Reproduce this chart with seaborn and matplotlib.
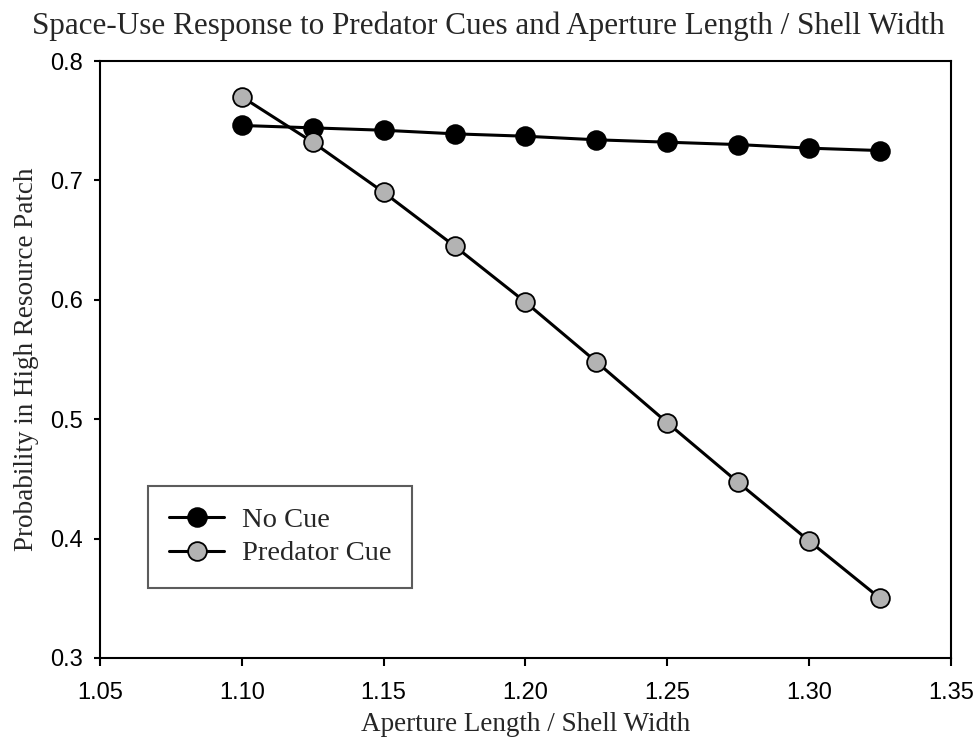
import matplotlib
matplotlib.use("Agg")
import matplotlib.pyplot as plt
import seaborn as sns
import pandas as pd

# valores
x_vals = [1.100, 1.125, 1.150, 1.175, 1.200, 1.225, 1.250, 1.275, 1.300, 1.325]
no_cue = [0.746, 0.744, 0.742, 0.739, 0.737, 0.734, 0.732, 0.730, 0.727, 0.725]
predator_cue = [0.770, 0.732, 0.690, 0.645, 0.598, 0.548, 0.497, 0.447, 0.398, 0.350]
x_ticks = [1.05, 1.10, 1.15, 1.20, 1.25, 1.30, 1.35]
y_ticks = [0.3, 0.4, 0.5, 0.6, 0.7, 0.8]

df = pd.DataFrame({
    "x": x_vals * 2,
    "y": no_cue + predator_cue,
    "grupo": ["No Cue"] * len(x_vals) + ["Predator Cue"] * len(x_vals),
})

sns.set_style("ticks")
serif = ["Liberation Serif", "DejaVu Serif"]
sans = ["Liberation Sans", "DejaVu Sans"]

fig = plt.figure(figsize=(9.76, 7.46), dpi=100)
ax = fig.add_axes([100 / 976, 1 - 658 / 746, 851 / 976, 597 / 746])

cores = {"No Cue": "black", "Predator Cue": "#b3b3b3"}
for nome, sub in df.groupby("grupo"):
    sns.lineplot(data=sub, x="x", y="y", ax=ax, color="black", linewidth=2.2,
                 marker="o", markersize=13.5, markerfacecolor=cores[nome],
                 markeredgecolor="black", markeredgewidth=1.3, label=nome)

ax.set_xlim(1.05, 1.35)
ax.set_ylim(0.3, 0.8)
ax.set_xticks(x_ticks)
ax.set_yticks(y_ticks)
ax.set_xticklabels([f"{v:.2f}" for v in x_ticks], family=sans, fontsize=17)
ax.set_yticklabels([f"{v:.1f}" for v in y_ticks], family=sans, fontsize=17)
ax.tick_params(axis="x", direction="out", length=6, width=1.5, pad=11, colors="black")
ax.tick_params(axis="y", direction="out", length=4, width=1.5, pad=8, colors="black")
for s in ax.spines.values():
    s.set_visible(True)
    s.set_linewidth(1.5)
    s.set_color("black")

ax.set_xlabel("Aperture Length / Shell Width", family=serif, fontsize=19.5, labelpad=6)
ax.set_ylabel("Probability in High Resource Patch", family=serif, fontsize=19.5, labelpad=8)
fig.text(0.5, 1 - 26 / 746, "Space-Use Response to Predator Cues and Aperture Length / Shell Width",
         ha="center", va="center", family=serif, fontsize=22.4)

leg = ax.legend(loc="center", bbox_to_anchor=((280 - 100) / 851, (658 - 537) / 597),
                prop={"family": serif, "size": 20.5}, fancybox=False, frameon=True,
                borderpad=0.75, handlelength=1.95, labelspacing=0.25, handletextpad=0.6)
leg.get_frame().set_edgecolor("#333333")
leg.get_frame().set_linewidth(1.5)

fig.savefig("out.png", dpi=100)
